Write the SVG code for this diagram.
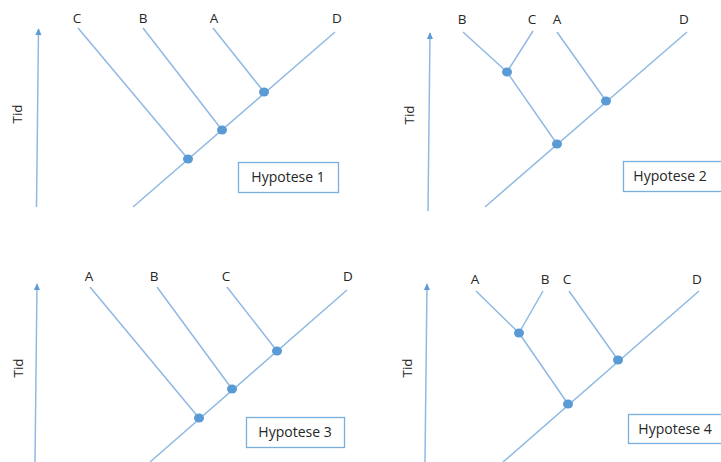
<svg xmlns="http://www.w3.org/2000/svg" width="721" height="462" viewBox="0 0 721 462">
<defs>
<style>
.t{font-family:"Open Sans","Liberation Sans",sans-serif;font-size:13.5px;fill:#262626;text-anchor:middle}
.h{font-family:"Open Sans","Liberation Sans",sans-serif;font-size:14px;fill:#262626;text-anchor:middle}
.br{stroke:#8fb9e3;stroke-width:1.5;fill:none}
.ax{stroke:#8fb9e3;stroke-width:1.5;fill:none}
.n{fill:#5b9bd5}
.box{fill:#fff;stroke:#7aaedc;stroke-width:1.3}
</style>
<marker id="ah" viewBox="0 0 10 10" refX="8" refY="5" markerWidth="5" markerHeight="5" orient="auto">
<path d="M0,1 L9,5 L0,9 z" fill="#5b9bd5"/>
</marker>
</defs>
<rect width="721" height="462" fill="#fff"/>

<!-- Panel 1 -->
<g id="panel1-axis">
<line class="ax" x1="36.5" y1="207" x2="38.5" y2="29" marker-end="url(#ah)"/>
<text class="t" transform="translate(22,114) rotate(-90)">Tid</text>
</g>
<g id="connectors1">
<line class="br" x1="133" y1="207" x2="335" y2="32"/>
<line class="br" x1="78" y1="28" x2="188" y2="159"/>
<line class="br" x1="143" y1="28" x2="222" y2="130"/>
<line class="br" x1="213" y1="28" x2="264" y2="92"/>
</g>
<g id="p1-leaves">
<text class="t" x="77" y="23">C</text>
<text class="t" x="143" y="23">B</text>
<text class="t" x="214" y="23">A</text>
<text class="t" x="337" y="23">D</text>
</g>
<g id="p1-nodes">
<ellipse class="n" cx="188" cy="159" rx="5" ry="4.5"/>
<ellipse class="n" cx="222" cy="130" rx="5" ry="4.5"/>
<ellipse class="n" cx="264" cy="92" rx="5" ry="4.5"/>
</g>
<g id="hyp1">
<rect class="box" x="238.5" y="162.5" width="100" height="30"/>
<text class="h" x="288" y="182">Hypotese 1</text>
</g>

<!-- Panel 2 -->
<g id="panel2-axis">
<line class="ax" x1="428" y1="211" x2="430" y2="33" marker-end="url(#ah)"/>
<text class="t" transform="translate(414,115) rotate(-90)">Tid</text>
</g>
<g id="connectors2">
<line class="br" x1="485" y1="207" x2="687" y2="32"/>
<line class="br" x1="463" y1="32" x2="507" y2="72"/>
<line class="br" x1="507" y1="72" x2="557" y2="144"/>
<line class="br" x1="533" y1="31" x2="507" y2="72"/>
<line class="br" x1="557" y1="32" x2="606" y2="101"/>
</g>
<g id="p2-leaves">
<text class="t" x="462" y="24">B</text>
<text class="t" x="532" y="24">C</text>
<text class="t" x="557" y="24">A</text>
<text class="t" x="684" y="24">D</text>
</g>
<g id="p2-nodes">
<ellipse class="n" cx="507" cy="72" rx="5" ry="4.5"/>
<ellipse class="n" cx="557" cy="144" rx="5" ry="4.5"/>
<ellipse class="n" cx="606" cy="101" rx="5" ry="4.5"/>
</g>
<g id="hyp2">
<rect class="box" x="623.5" y="161.5" width="110" height="30"/>
<text class="h" x="670" y="181">Hypotese 2</text>
</g>

<!-- Panel 3 -->
<g id="panel3-axis">
<line class="ax" x1="35" y1="462" x2="37" y2="284" marker-end="url(#ah)"/>
<text class="t" transform="translate(23,368) rotate(-90)">Tid</text>
</g>
<g id="connectors3">
<line class="br" x1="150" y1="462" x2="347" y2="290"/>
<line class="br" x1="90" y1="287" x2="199" y2="418"/>
<line class="br" x1="157" y1="287" x2="232" y2="389"/>
<line class="br" x1="227" y1="287" x2="277" y2="351"/>
</g>
<g id="p3-leaves">
<text class="t" x="89" y="281">A</text>
<text class="t" x="154" y="281">B</text>
<text class="t" x="226" y="281">C</text>
<text class="t" x="348" y="281">D</text>
</g>
<g id="p3-nodes">
<ellipse class="n" cx="199" cy="418" rx="5" ry="4.5"/>
<ellipse class="n" cx="232" cy="389" rx="5" ry="4.5"/>
<ellipse class="n" cx="277" cy="351" rx="5" ry="4.5"/>
</g>
<g id="hyp3">
<rect class="box" x="246.5" y="417.5" width="98" height="30"/>
<text class="h" x="295" y="437">Hypotese 3</text>
</g>

<!-- Panel 4 -->
<g id="panel4-axis">
<line class="ax" x1="425" y1="462" x2="427" y2="284" marker-end="url(#ah)"/>
<text class="t" transform="translate(412,368) rotate(-90)">Tid</text>
</g>
<g id="connectors4">
<line class="br" x1="503" y1="462" x2="699" y2="291"/>
<line class="br" x1="476" y1="291" x2="519" y2="333"/>
<line class="br" x1="519" y1="333" x2="568" y2="404"/>
<line class="br" x1="543" y1="291" x2="519" y2="333"/>
<line class="br" x1="569" y1="291" x2="618" y2="360"/>
</g>
<g id="p4-leaves">
<text class="t" x="475" y="284">A</text>
<text class="t" x="545" y="284">B</text>
<text class="t" x="567" y="284">C</text>
<text class="t" x="697" y="284">D</text>
</g>
<g id="p4-nodes">
<ellipse class="n" cx="519" cy="333" rx="5" ry="4.5"/>
<ellipse class="n" cx="568" cy="404" rx="5" ry="4.5"/>
<ellipse class="n" cx="618" cy="360" rx="5" ry="4.5"/>
</g>
<g id="hyp4">
<rect class="box" x="628.5" y="414.5" width="110" height="29"/>
<text class="h" x="675" y="434">Hypotese 4</text>
</g>
</svg>
